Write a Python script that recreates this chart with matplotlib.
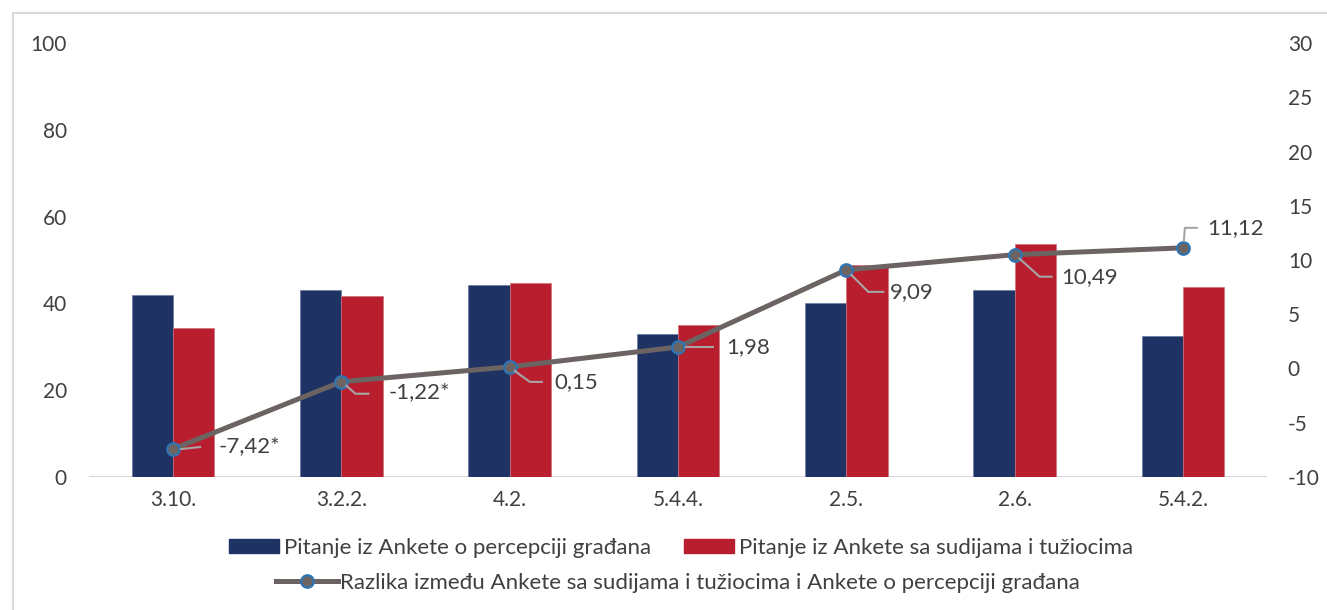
import numpy as np
import matplotlib
matplotlib.use('Agg')
import matplotlib.pyplot as plt
from matplotlib.patches import Rectangle, Patch
from matplotlib.lines import Line2D
from matplotlib.transforms import ScaledTranslation

plt.rcParams['font.family'] = ['Lato', 'DejaVu Sans']
plt.rcParams['axes.unicode_minus'] = False

# podaci
kategorije = ['3.10.', '3.2.2.', '4.2.', '5.4.4.', '2.5.', '2.6.', '5.4.2.']
gradjani = [41.9, 43.2, 44.3, 33.0, 40.0, 43.2, 32.5]
sudije = [34.4, 41.8, 44.7, 35.0, 48.8, 53.7, 43.8]
razlika = [-7.42, -1.22, 0.15, 1.98, 9.09, 10.49, 11.12]
oznake = ['-7,42*', '-1,22*', '0,15', '1,98', '9,09', '10,49', '11,12']

naziv_g = 'Pitanje iz Ankete o percepciji građana'
naziv_s = 'Pitanje iz Ankete sa sudijama i tužiocima'
naziv_r = 'Razlika između Ankete sa sudijama i tužiocima i Ankete o percepciji građana'

c_navy = '#1f3264'
c_red = '#b91e2f'
c_line = '#6b6462'
c_mark = '#2e75b6'
c_txt = '#404040'
c_lead = '#a6a6a6'

fig = plt.figure(figsize=(13.27, 6.10), dpi=100)
# okvir
fig.patches.append(Rectangle((13/1327, -0.1), 1.2, 1.1 - 13/610, transform=fig.transFigure,
                             fill=False, edgecolor='#d9d9d9', linewidth=1.5))

ax = fig.add_axes([89/1327, 133/610, 1178/1327, 434/610])
x = np.arange(len(kategorije))
w = 0.245
ax.bar(x - w/2, gradjani, w, color=c_navy, edgecolor='#6a7aa0', linewidth=0.5, zorder=2)
ax.bar(x + w/2, sudije, w, color=c_red, edgecolor='#d0707a', linewidth=0.5, zorder=2)
ax.set_ylim(0, 100)
ax.set_xlim(-0.5, len(kategorije) - 0.5)
ax.set_yticks(range(0, 101, 20))
ax.set_xticks(x)
ax.set_xticklabels(kategorije)
for s in ax.spines.values():
    s.set_visible(False)
ax.axhline(0, color='#d9d9d9', linewidth=1.5, zorder=1)
ax.tick_params(length=0, labelsize=15, colors=c_txt)
ax.tick_params(axis='y', pad=16)
ax.tick_params(axis='x', pad=9)

ax2 = ax.twinx()
ax2.set_ylim(-10, 30)
ax2.set_yticks(range(-10, 31, 5))
for s in ax2.spines.values():
    s.set_visible(False)
ax2.tick_params(length=0, labelsize=15, colors=c_txt, pad=15)
ax2.plot(x, razlika, color=c_line, linewidth=3.6, marker='o', markersize=9,
         markerfacecolor=c_line, markeredgecolor=c_mark, markeredgewidth=1.6, zorder=3)

# oznake: pomak teksta i tocke linije vodilice u px od markera (y prema dolje)
tekst_pomak = [(45, -3), (47, 10), (45, 15), (48, 0), (44, 22), (47, 22), (24, -20)]
vodilice = [
    [(8, 0), (27, -2)],
    [(5, 4), (14, 12), (27, 12)],
    [(5, 4), (20, 15), (32, 15)],
    [(8, 0), (35, 0)],
    [(5, 5), (22, 22), (37, 22)],
    [(5, 4), (25, 22), (37, 22)],
    [(1, -7), (2, -20), (14, -20)],
]
for i in range(len(razlika)):
    tr = fig.dpi_scale_trans + ScaledTranslation(x[i], razlika[i], ax2.transData)
    px = [p[0] / 100 for p in vodilice[i]]
    py = [-p[1] / 100 for p in vodilice[i]]
    ax2.add_line(Line2D(px, py, transform=tr, color=c_lead, linewidth=1.5, zorder=4))
    dx, dy = tekst_pomak[i]
    ax2.annotate(oznake[i], xy=(x[i], razlika[i]), xytext=(dx, -dy), textcoords='offset pixels',
                 ha='left', va='center', fontsize=16, color=c_txt, zorder=4)

# legenda
h1 = [Patch(color=c_navy), Patch(color=c_red)]
fig.legend(h1, [naziv_g, naziv_s], ncol=2, loc='center', bbox_to_anchor=(681/1327, 1 - 548/610),
           frameon=False, fontsize=16, handlelength=2.25, handleheight=0.6, handletextpad=0.22,
           columnspacing=1.5, labelcolor=c_txt, borderpad=0)
h2 = [Line2D([], [], color=c_line, linewidth=3.6, marker='o', markersize=9,
             markerfacecolor=c_line, markeredgecolor=c_mark, markeredgewidth=1.6)]
fig.legend(h2, [naziv_r], loc='center', bbox_to_anchor=(678/1327, 1 - 583/610),
           frameon=False, fontsize=16, handlelength=2.75, handletextpad=0.1, labelcolor=c_txt,
           borderpad=0)

fig.savefig('out.png', dpi=100)
